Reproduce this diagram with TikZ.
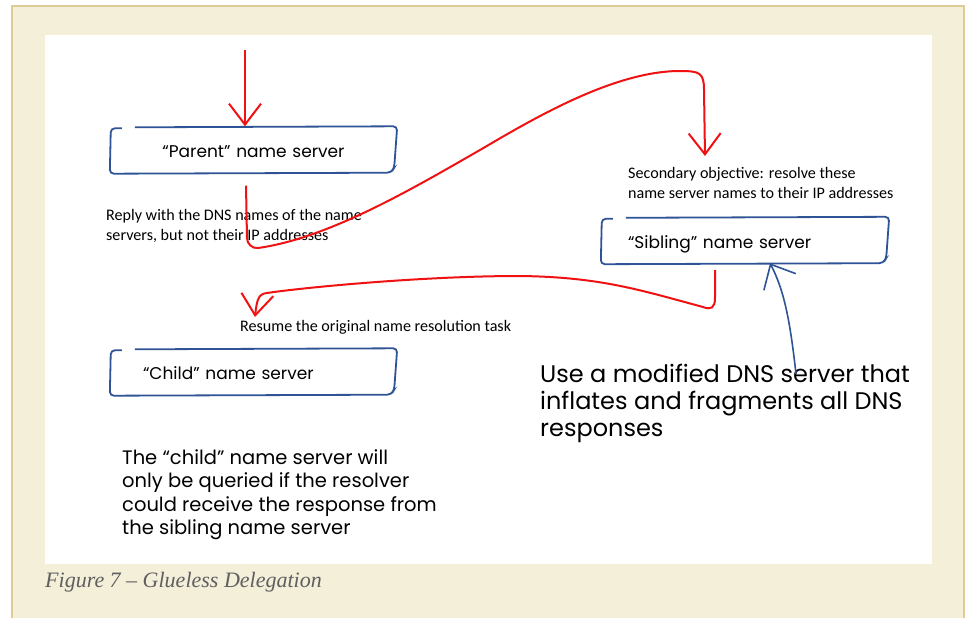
\documentclass[tikz,border=0pt]{standalone}
\usepackage{fontspec}
\setmainfont{Carlito}
\newfontfamily\sketchfont{Poppins}
\newfontfamily\captionfont{Liberation Serif}
\usetikzlibrary{arrows.meta}

\definecolor{inkred}{RGB}{240,18,18}
\definecolor{inkblue}{RGB}{47,84,150}
\definecolor{framebg}{RGB}{244,239,217}
\definecolor{frametan}{RGB}{221,204,150}
\definecolor{capgray}{RGB}{95,95,95}

% hand drawn server box, open at the top left corner
\newcommand{\sketchbox}[1]%
{\draw[boxline, rounded corners=4pt]
  ([shift={(12,-2)}]#1.north west) -- ([shift={(1,-2)}]#1.north west)
  -- ([shift={(0,-1)}]#1.south west) -- ([shift={(-6,0)}]#1.south east)
  -- ([shift={(-3,5)}]#1.south east) -- (#1.north east)
  -- ([shift={(25,-1)}]#1.north west);
}

\tikzset{
  flow/.style={draw=inkred, line width=2pt, -{Straight Barb[length=21pt,width=32pt]}},
  hint/.style={draw=inkblue, line width=1.6pt, -{Straight Barb[length=20pt,width=36pt]}},
  boxline/.style={draw=inkblue, line width=1.8pt},
  server/.style={inner ysep=0pt, minimum height=46pt, text height=16pt, text depth=0pt, font=\sketchfont\fontsize{17}{20}\selectfont},
  note/.style={inner sep=0pt, align=left, font=\fontsize{16.1}{19.7}\selectfont},
  scrawl/.style={inner sep=0pt, align=left, font=\sketchfont\fontsize{19.5}{23.5}\selectfont}
}

\begin{document}
\begin{tikzpicture}[x=1pt, y=1pt]
	\useasboundingbox (0,0) rectangle (966,-618);
	\fill[white] (0,0) rectangle (966,-618);
	\draw[line width=2pt, draw=frametan, fill=framebg] (12,-6) rectangle (964,-640);
	\fill[white] (45,-35) rectangle (932,-564);

	\node[server, text width=247pt, inner xsep=20pt, align=center] (parent) at (253.5,-149.5) {“Parent” name server};
	\node[server, text width=234pt, inner xsep=27pt, align=left] (sibling) at (745,-240) {“Sibling” name server};
	\node[server, text width=221pt, inner xsep=33pt, align=left] (child) at (253.5,-371.5) {“Child” name server};
	\sketchbox{parent}
	\sketchbox{sibling}
	\sketchbox{child}

	\node[note, anchor=north west] (reply) at (106,-209) {Reply with the DNS names of the name\\servers, but not their IP addresses};
	\node[note, anchor=north west] (secondary) at (628,-167) {Secondary objective: resolve these\\name server names to their IP addresses};
	\node[note, anchor=north west] (resume) at (240,-320) {Resume the original name resolution task};

	\node[scrawl, anchor=north west] (childnote) at (122,-449) {The “child” name server will\\only be queried if the resolver\\could receive the response from\\the sibling name server};
	\node[scrawl, font=\sketchfont\fontsize{24}{27}\selectfont, anchor=north west] (tamper) at (540,-364) {Use a modified DNS server that\\inflates and fragments all DNS\\responses};

	\node[anchor=base west, inner sep=0pt, text=capgray, font=\captionfont\itshape\fontsize{22}{26}\selectfont] (caption) at (45,-587) {Figure 7 – Glueless Delegation};

	% red arrows: the resolver's path
	\coordinate (query) at (245,-50);
	\coordinate (pout) at ([xshift=-7.5pt,yshift=-13pt]parent.south);
	\coordinate (pin) at (705,-156);
	\coordinate (sout) at (715,-270);
	\coordinate (rin) at (255,-317);
	\draw[flow] (query) -- (query |- parent.north);
	\draw[flow] (pout) -- (247,-238) to[out=-90,in=188] (258,-248)
		.. controls (330,-238) and (417,-186) .. (480,-150)
		.. controls (536,-117) and (615,-71) .. (680,-71)
		.. controls (700,-71) and (704,-73) .. (704,-90) -- (pin);
	\draw[flow] (sout) -- (715,-298) .. controls (715,-308) and (711,-310) .. (703,-307)
		.. controls (640,-290) and (600,-277) .. (520,-276)
		.. controls (420,-276) and (300,-288) .. (267,-293)
		.. controls (259,-294) and (257,-298) .. (rin);

	% blue arrow: the tampered server
	\coordinate (tampertop) at (796,-374);
	\draw[hint] (tampertop) .. controls (790,-320) and (784,-290) .. (sibling.south -| 770,0);
\end{tikzpicture}
\end{document}
